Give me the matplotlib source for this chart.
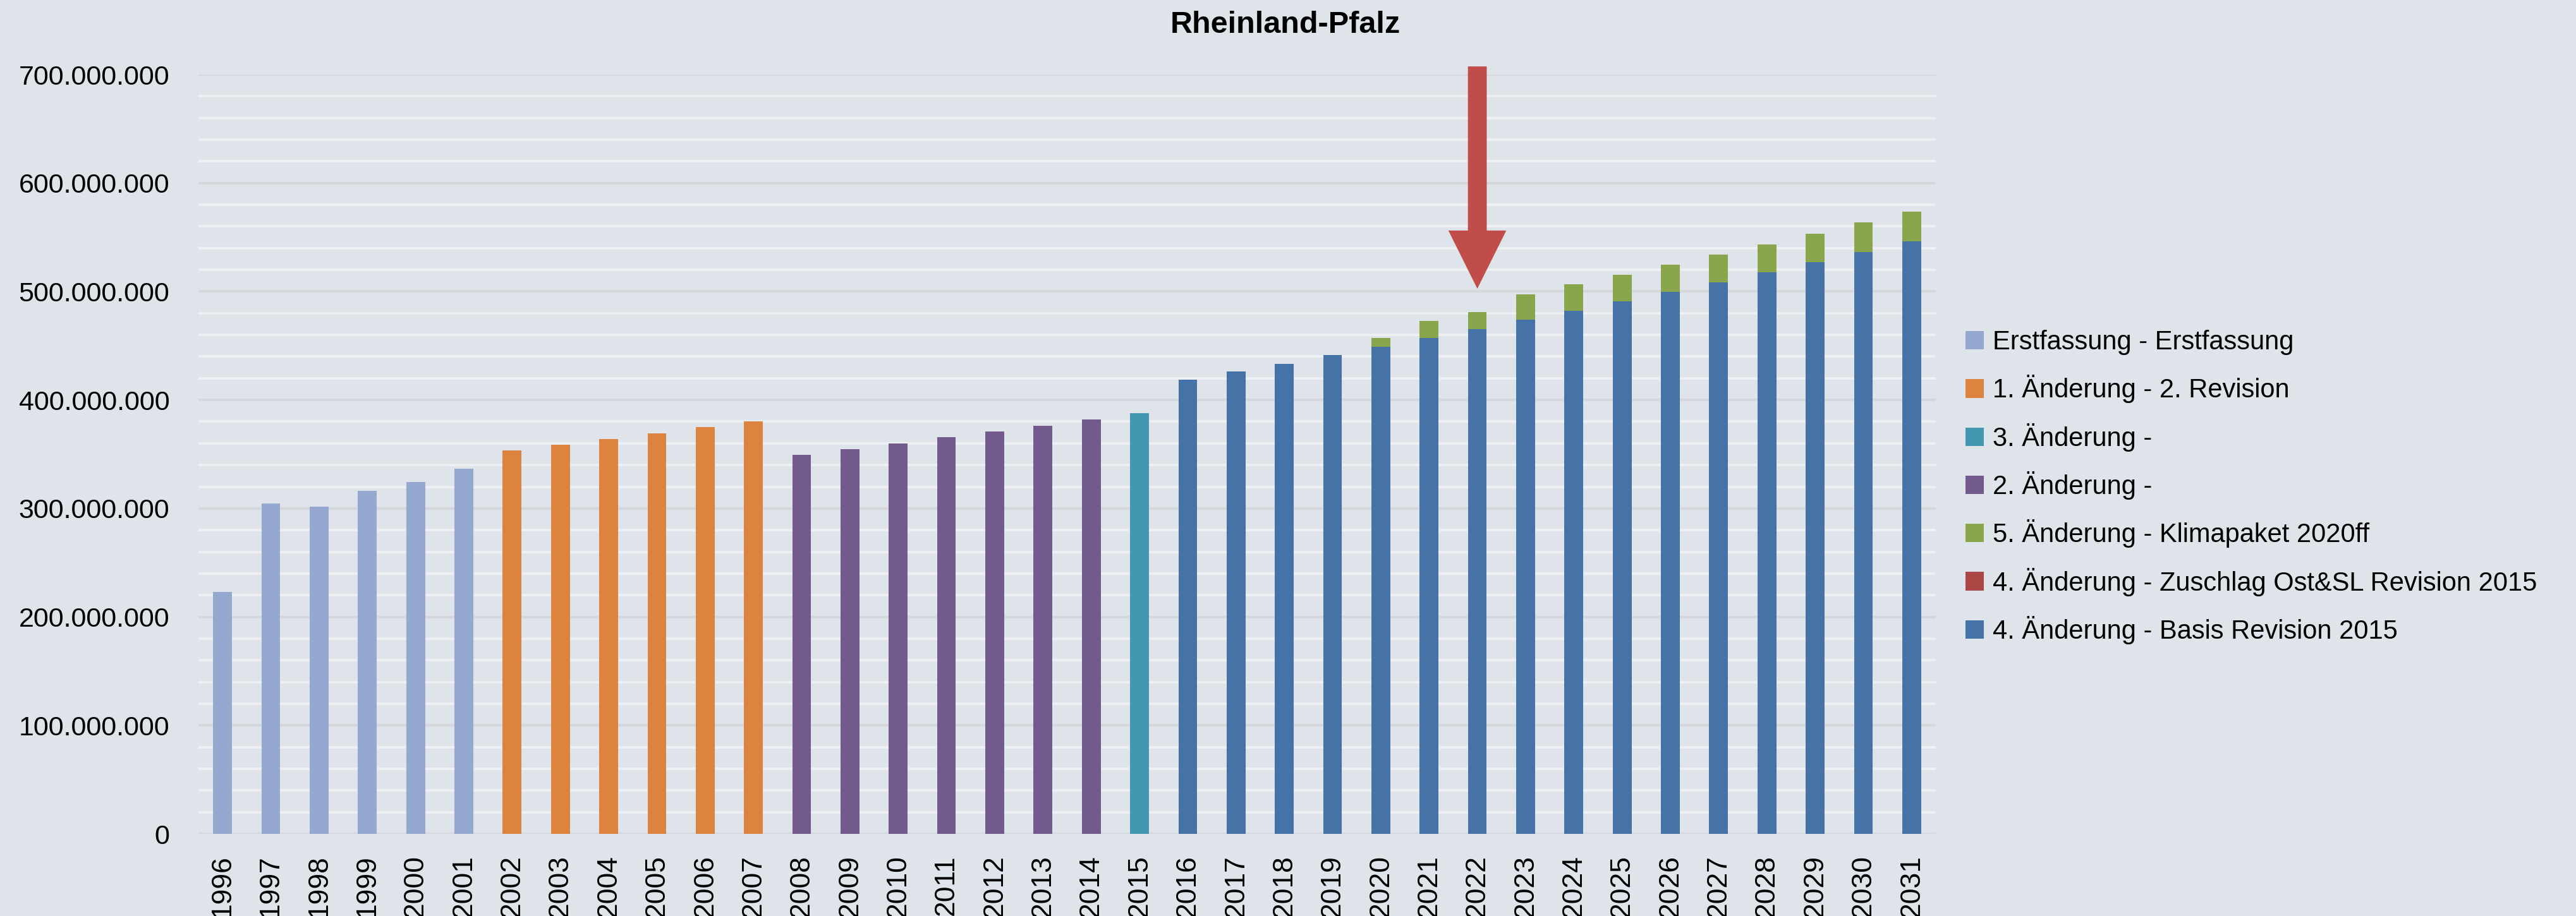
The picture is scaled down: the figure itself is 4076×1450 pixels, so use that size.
import matplotlib
matplotlib.use('Agg')
import matplotlib.pyplot as plt
from matplotlib.patches import Patch
from matplotlib.ticker import FuncFormatter, MultipleLocator

plt.rcParams['font.family'] = ['Liberation Sans Narrow', 'Liberation Sans', 'DejaVu Sans']

# values in million
years = list(range(1996, 2032))

erst_years = [1996, 1997, 1998, 1999, 2000, 2001]
erst_vals = [222.9, 304.4, 301.9, 316.2, 324.6, 336.6]

aend1_years = [2002, 2003, 2004, 2005, 2006, 2007]
aend1_vals = [353.3, 358.6, 364.0, 369.4, 374.9, 380.5]

aend2_years = [2008, 2009, 2010, 2011, 2012, 2013, 2014]
aend2_vals = [349.4, 354.7, 360.1, 365.6, 371.0, 376.4, 382.1]

aend3_years = [2015]
aend3_vals = [387.9]

basis_years = list(range(2016, 2032))
basis_vals = [418.8, 426.1, 433.5, 441.5, 449.2, 457.4, 465.5, 473.9,
              482.4, 490.8, 499.9, 508.6, 517.9, 527.1, 536.6, 546.3]

klima_years = list(range(2020, 2032))
klima_vals = [7.8, 15.5, 15.8, 23.5, 24.1, 24.6, 24.8, 25.4, 25.7, 26.4, 27.0, 27.2]

labels = ['Erstfassung - Erstfassung', '1. Änderung - 2. Revision', '3. Änderung -',
          '2. Änderung -', '5. Änderung - Klimapaket 2020ff',
          '4. Änderung - Zuschlag Ost&SL Revision 2015', '4. Änderung - Basis Revision 2015']
colors = ['#95A9D0', '#DC843F', '#4298B0', '#725A8E', '#8AA64D', '#AA4643', '#4573A7']

bg = '#DFE4EA'
M = 1e6
w = 0.39

fig = plt.figure(figsize=(40.76, 14.5), dpi=100, facecolor=bg)
ax = fig.add_axes([314 / 4076, 1 - 1320 / 1450, (3063 - 314) / 4076, (1320 - 118) / 1450])
ax.set_facecolor(bg)

ax.bar(erst_years, [v * M for v in erst_vals], w, color=colors[0], zorder=3)
ax.bar(aend1_years, [v * M for v in aend1_vals], w, color=colors[1], zorder=3)
ax.bar(aend3_years, [v * M for v in aend3_vals], w, color=colors[2], zorder=3)
ax.bar(aend2_years, [v * M for v in aend2_vals], w, color=colors[3], zorder=3)
ax.bar(basis_years, [v * M for v in basis_vals], w, color=colors[6], zorder=3)
klima_bottom = [basis_vals[basis_years.index(y)] * M for y in klima_years]
ax.bar(klima_years, [v * M for v in klima_vals], w, bottom=klima_bottom, color=colors[4], zorder=3)

# red arrow pointing at 2022
ax.arrow(2022, 707.5 * M, 0, -(707.5 - 502.6) * M, width=w, head_width=1.2, head_length=53.6 * M,
         length_includes_head=True, color='#C04D4A', clip_on=False, zorder=5, linewidth=0)

ax.set_xlim(1995.5, 2031.5)
ax.set_ylim(0, 700 * M)
ax.set_xticks(years)
ax.set_xticklabels([str(y) for y in years], rotation=90, fontsize=32)
ax.yaxis.set_major_locator(MultipleLocator(100 * M))
ax.yaxis.set_minor_locator(MultipleLocator(20 * M))
ax.yaxis.set_major_formatter(FuncFormatter(lambda v, p: f'{v:,.0f}'.replace(',', '.')))
ax.tick_params(axis='y', labelsize=31, length=0, pad=33, which='both')
ax.tick_params(axis='x', length=0, pad=24)
ax.grid(axis='y', which='major', color='#D4D7DB', linewidth=3, zorder=0)
ax.grid(axis='y', which='minor', color='#EDEFF2', linewidth=3, zorder=0)
for s in ax.spines.values():
    s.set_visible(False)

fig.text(2034 / 4076, 1 - 39 / 1450, 'Rheinland-Pfalz', ha='center', va='center',
         fontsize=35, fontweight='bold')

handles = [Patch(facecolor=c) for c in colors]
fig.legend(handles, labels, loc='center left', bbox_to_anchor=(3072 / 4076, 1 - 771 / 1450),
           frameon=False, fontsize=30, handlelength=0.7, handleheight=0.7,
           handletextpad=0.35, labelspacing=0.75)

fig.savefig('out.png', dpi=100, facecolor=bg)
